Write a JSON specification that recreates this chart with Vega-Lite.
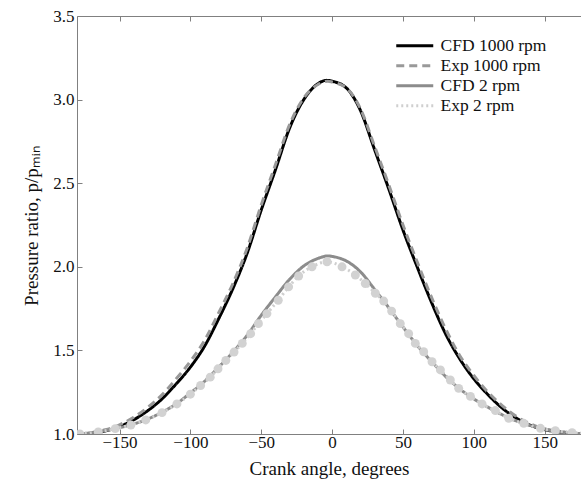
{
  "$schema": "https://vega.github.io/schema/vega-lite/v6.json",
  "autosize": "none",
  "width": 504,
  "height": 418,
  "padding": {"left": 77, "top": 16, "right": 0, "bottom": 48},
  "background": "white",
  "config": {
    "view": {"stroke": null},
    "font": "Liberation Serif",
    "axis": {"labelFont": "Liberation Serif", "titleFont": "Liberation Serif", "labelFontSize": 17, "titleFontSize": 19, "titleFontWeight": "normal", "labelColor": "#111", "titleColor": "#111", "domainColor": "#808080", "tickColor": "#808080", "grid": false}
  },
  "data": {"values": [
    {"series": "CFD 1000 rpm", "angle": -180, "p": 1.0},
    {"series": "CFD 1000 rpm", "angle": -170, "p": 1.005},
    {"series": "CFD 1000 rpm", "angle": -160, "p": 1.018},
    {"series": "CFD 1000 rpm", "angle": -150, "p": 1.045},
    {"series": "CFD 1000 rpm", "angle": -140, "p": 1.085},
    {"series": "CFD 1000 rpm", "angle": -130, "p": 1.14},
    {"series": "CFD 1000 rpm", "angle": -120, "p": 1.21},
    {"series": "CFD 1000 rpm", "angle": -110, "p": 1.30},
    {"series": "CFD 1000 rpm", "angle": -100, "p": 1.40},
    {"series": "CFD 1000 rpm", "angle": -90, "p": 1.525},
    {"series": "CFD 1000 rpm", "angle": -80, "p": 1.69},
    {"series": "CFD 1000 rpm", "angle": -70, "p": 1.87},
    {"series": "CFD 1000 rpm", "angle": -60, "p": 2.08},
    {"series": "CFD 1000 rpm", "angle": -50, "p": 2.34},
    {"series": "CFD 1000 rpm", "angle": -40, "p": 2.58},
    {"series": "CFD 1000 rpm", "angle": -30, "p": 2.83},
    {"series": "CFD 1000 rpm", "angle": -20, "p": 3.0},
    {"series": "CFD 1000 rpm", "angle": -10, "p": 3.095},
    {"series": "CFD 1000 rpm", "angle": -4, "p": 3.115},
    {"series": "CFD 1000 rpm", "angle": 0, "p": 3.11},
    {"series": "CFD 1000 rpm", "angle": 10, "p": 3.07},
    {"series": "CFD 1000 rpm", "angle": 20, "p": 2.935},
    {"series": "CFD 1000 rpm", "angle": 30, "p": 2.70},
    {"series": "CFD 1000 rpm", "angle": 40, "p": 2.465},
    {"series": "CFD 1000 rpm", "angle": 50, "p": 2.22},
    {"series": "CFD 1000 rpm", "angle": 60, "p": 2.0},
    {"series": "CFD 1000 rpm", "angle": 70, "p": 1.79},
    {"series": "CFD 1000 rpm", "angle": 80, "p": 1.60},
    {"series": "CFD 1000 rpm", "angle": 90, "p": 1.45},
    {"series": "CFD 1000 rpm", "angle": 100, "p": 1.33},
    {"series": "CFD 1000 rpm", "angle": 110, "p": 1.235},
    {"series": "CFD 1000 rpm", "angle": 120, "p": 1.155},
    {"series": "CFD 1000 rpm", "angle": 130, "p": 1.095},
    {"series": "CFD 1000 rpm", "angle": 140, "p": 1.052},
    {"series": "CFD 1000 rpm", "angle": 150, "p": 1.026},
    {"series": "CFD 1000 rpm", "angle": 160, "p": 1.012},
    {"series": "CFD 1000 rpm", "angle": 170, "p": 1.004},
    {"series": "CFD 1000 rpm", "angle": 180, "p": 1.0},

    {"series": "Exp 1000 rpm", "angle": -180, "p": 1.0},
    {"series": "Exp 1000 rpm", "angle": -170, "p": 1.008},
    {"series": "Exp 1000 rpm", "angle": -160, "p": 1.025},
    {"series": "Exp 1000 rpm", "angle": -150, "p": 1.055},
    {"series": "Exp 1000 rpm", "angle": -140, "p": 1.10},
    {"series": "Exp 1000 rpm", "angle": -130, "p": 1.16},
    {"series": "Exp 1000 rpm", "angle": -120, "p": 1.235},
    {"series": "Exp 1000 rpm", "angle": -110, "p": 1.33},
    {"series": "Exp 1000 rpm", "angle": -100, "p": 1.435},
    {"series": "Exp 1000 rpm", "angle": -90, "p": 1.56},
    {"series": "Exp 1000 rpm", "angle": -80, "p": 1.725},
    {"series": "Exp 1000 rpm", "angle": -70, "p": 1.90},
    {"series": "Exp 1000 rpm", "angle": -60, "p": 2.11},
    {"series": "Exp 1000 rpm", "angle": -50, "p": 2.37},
    {"series": "Exp 1000 rpm", "angle": -40, "p": 2.61},
    {"series": "Exp 1000 rpm", "angle": -30, "p": 2.85},
    {"series": "Exp 1000 rpm", "angle": -20, "p": 3.01},
    {"series": "Exp 1000 rpm", "angle": -10, "p": 3.09},
    {"series": "Exp 1000 rpm", "angle": -3, "p": 3.11},
    {"series": "Exp 1000 rpm", "angle": 0, "p": 3.105},
    {"series": "Exp 1000 rpm", "angle": 10, "p": 3.07},
    {"series": "Exp 1000 rpm", "angle": 20, "p": 2.945},
    {"series": "Exp 1000 rpm", "angle": 30, "p": 2.72},
    {"series": "Exp 1000 rpm", "angle": 40, "p": 2.49},
    {"series": "Exp 1000 rpm", "angle": 50, "p": 2.25},
    {"series": "Exp 1000 rpm", "angle": 60, "p": 2.03},
    {"series": "Exp 1000 rpm", "angle": 70, "p": 1.82},
    {"series": "Exp 1000 rpm", "angle": 80, "p": 1.63},
    {"series": "Exp 1000 rpm", "angle": 90, "p": 1.47},
    {"series": "Exp 1000 rpm", "angle": 100, "p": 1.35},
    {"series": "Exp 1000 rpm", "angle": 110, "p": 1.25},
    {"series": "Exp 1000 rpm", "angle": 120, "p": 1.17},
    {"series": "Exp 1000 rpm", "angle": 130, "p": 1.105},
    {"series": "Exp 1000 rpm", "angle": 140, "p": 1.06},
    {"series": "Exp 1000 rpm", "angle": 150, "p": 1.03},
    {"series": "Exp 1000 rpm", "angle": 160, "p": 1.014},
    {"series": "Exp 1000 rpm", "angle": 170, "p": 1.005},
    {"series": "Exp 1000 rpm", "angle": 180, "p": 1.0},

    {"series": "CFD 2 rpm", "angle": -180, "p": 1.0},
    {"series": "CFD 2 rpm", "angle": -170, "p": 1.008},
    {"series": "CFD 2 rpm", "angle": -160, "p": 1.02},
    {"series": "CFD 2 rpm", "angle": -150, "p": 1.038},
    {"series": "CFD 2 rpm", "angle": -140, "p": 1.06},
    {"series": "CFD 2 rpm", "angle": -130, "p": 1.09},
    {"series": "CFD 2 rpm", "angle": -120, "p": 1.13},
    {"series": "CFD 2 rpm", "angle": -110, "p": 1.18},
    {"series": "CFD 2 rpm", "angle": -100, "p": 1.245},
    {"series": "CFD 2 rpm", "angle": -90, "p": 1.315},
    {"series": "CFD 2 rpm", "angle": -80, "p": 1.40},
    {"series": "CFD 2 rpm", "angle": -70, "p": 1.49},
    {"series": "CFD 2 rpm", "angle": -60, "p": 1.59},
    {"series": "CFD 2 rpm", "angle": -50, "p": 1.71},
    {"series": "CFD 2 rpm", "angle": -40, "p": 1.82},
    {"series": "CFD 2 rpm", "angle": -30, "p": 1.925},
    {"series": "CFD 2 rpm", "angle": -20, "p": 2.005},
    {"series": "CFD 2 rpm", "angle": -10, "p": 2.05},
    {"series": "CFD 2 rpm", "angle": -3, "p": 2.065},
    {"series": "CFD 2 rpm", "angle": 0, "p": 2.062},
    {"series": "CFD 2 rpm", "angle": 10, "p": 2.035},
    {"series": "CFD 2 rpm", "angle": 20, "p": 1.97},
    {"series": "CFD 2 rpm", "angle": 30, "p": 1.865},
    {"series": "CFD 2 rpm", "angle": 40, "p": 1.755},
    {"series": "CFD 2 rpm", "angle": 50, "p": 1.64},
    {"series": "CFD 2 rpm", "angle": 60, "p": 1.53},
    {"series": "CFD 2 rpm", "angle": 70, "p": 1.435},
    {"series": "CFD 2 rpm", "angle": 80, "p": 1.345},
    {"series": "CFD 2 rpm", "angle": 90, "p": 1.27},
    {"series": "CFD 2 rpm", "angle": 100, "p": 1.21},
    {"series": "CFD 2 rpm", "angle": 110, "p": 1.16},
    {"series": "CFD 2 rpm", "angle": 120, "p": 1.115},
    {"series": "CFD 2 rpm", "angle": 130, "p": 1.078},
    {"series": "CFD 2 rpm", "angle": 140, "p": 1.05},
    {"series": "CFD 2 rpm", "angle": 150, "p": 1.03},
    {"series": "CFD 2 rpm", "angle": 160, "p": 1.016},
    {"series": "CFD 2 rpm", "angle": 170, "p": 1.006},
    {"series": "CFD 2 rpm", "angle": 180, "p": 1.0},

    {"series": "Exp 2 rpm", "angle": -178, "p": 1.0},
    {"series": "Exp 2 rpm", "angle": -165, "p": 1.012},
    {"series": "Exp 2 rpm", "angle": -153, "p": 1.032},
    {"series": "Exp 2 rpm", "angle": -142, "p": 1.054},
    {"series": "Exp 2 rpm", "angle": -131.5, "p": 1.084},
    {"series": "Exp 2 rpm", "angle": -120, "p": 1.128},
    {"series": "Exp 2 rpm", "angle": -109.5, "p": 1.18},
    {"series": "Exp 2 rpm", "angle": -100, "p": 1.238},
    {"series": "Exp 2 rpm", "angle": -92.8, "p": 1.29},
    {"series": "Exp 2 rpm", "angle": -86, "p": 1.34},
    {"series": "Exp 2 rpm", "angle": -80.5, "p": 1.39},
    {"series": "Exp 2 rpm", "angle": -75, "p": 1.44},
    {"series": "Exp 2 rpm", "angle": -69.2, "p": 1.49},
    {"series": "Exp 2 rpm", "angle": -63.4, "p": 1.542},
    {"series": "Exp 2 rpm", "angle": -57.5, "p": 1.60},
    {"series": "Exp 2 rpm", "angle": -52, "p": 1.66},
    {"series": "Exp 2 rpm", "angle": -46, "p": 1.72},
    {"series": "Exp 2 rpm", "angle": -38, "p": 1.80},
    {"series": "Exp 2 rpm", "angle": -30.7, "p": 1.88},
    {"series": "Exp 2 rpm", "angle": -23.6, "p": 1.945},
    {"series": "Exp 2 rpm", "angle": -14.2, "p": 2.0},
    {"series": "Exp 2 rpm", "angle": -3.6, "p": 2.03},
    {"series": "Exp 2 rpm", "angle": 7, "p": 2.0},
    {"series": "Exp 2 rpm", "angle": 16.4, "p": 1.951},
    {"series": "Exp 2 rpm", "angle": 23.4, "p": 1.90},
    {"series": "Exp 2 rpm", "angle": 30.5, "p": 1.842},
    {"series": "Exp 2 rpm", "angle": 36.4, "p": 1.795},
    {"series": "Exp 2 rpm", "angle": 42, "p": 1.735},
    {"series": "Exp 2 rpm", "angle": 48.1, "p": 1.66},
    {"series": "Exp 2 rpm", "angle": 54, "p": 1.60},
    {"series": "Exp 2 rpm", "angle": 58.7, "p": 1.542},
    {"series": "Exp 2 rpm", "angle": 64.6, "p": 1.492},
    {"series": "Exp 2 rpm", "angle": 70.5, "p": 1.432},
    {"series": "Exp 2 rpm", "angle": 76.4, "p": 1.383},
    {"series": "Exp 2 rpm", "angle": 83.4, "p": 1.323},
    {"series": "Exp 2 rpm", "angle": 89.3, "p": 1.273},
    {"series": "Exp 2 rpm", "angle": 97.6, "p": 1.225},
    {"series": "Exp 2 rpm", "angle": 105.8, "p": 1.18},
    {"series": "Exp 2 rpm", "angle": 115.2, "p": 1.14},
    {"series": "Exp 2 rpm", "angle": 124.6, "p": 1.094},
    {"series": "Exp 2 rpm", "angle": 135.2, "p": 1.064},
    {"series": "Exp 2 rpm", "angle": 147, "p": 1.034},
    {"series": "Exp 2 rpm", "angle": 157.5, "p": 1.02},
    {"series": "Exp 2 rpm", "angle": 169.3, "p": 1.008},
    {"series": "Exp 2 rpm", "angle": 178, "p": 1.0}
  ]},
  "layer": [
    {
      "mark": {"type": "line", "strokeWidth": 3, "interpolate": "monotone", "clip": true},
      "encoding": {
        "x": {"field": "angle", "type": "quantitative", "scale": {"domain": [-180, 175.6], "nice": false, "zero": false},
              "axis": {"orient": "bottom", "values": [-150, -100, -50, 0, 50, 100, 150], "title": "Crank angle, degrees", "tickSize": -5, "labelPadding": 5, "titlePadding": 9, "labelFlush": false}},
        "y": {"field": "p", "type": "quantitative", "scale": {"domain": [1.0, 3.5], "nice": false, "zero": false},
              "axis": {"values": [1.0, 1.5, 2.0, 2.5, 3.0, 3.5], "format": ".1f", "title": "Pressure ratio, p/pₘᵢₙ", "tickSize": -5, "labelPadding": 8, "titlePadding": 11, "labelFlush": false}},
        "color": {"field": "series", "type": "nominal",
                  "scale": {"domain": ["CFD 1000 rpm", "Exp 1000 rpm", "CFD 2 rpm", "Exp 2 rpm"], "range": ["#000000", "#999999", "#8c8c8c", "#cfcfcf"]},
                  "legend": {"title": null, "orient": "none", "legendX": 329, "legendY": 21, "padding": 0, "symbolType": "M-3.7,0L3.7,0", "symbolSize": 100, "symbolStrokeWidth": 3, "symbolFillColor": "transparent", "labelFont": "Liberation Serif", "labelFontSize": 17.5, "labelColor": "#111", "labelOffset": 17, "rowPadding": 1}},
        "strokeDash": {"field": "series", "type": "nominal",
                  "scale": {"domain": ["CFD 1000 rpm", "Exp 1000 rpm", "CFD 2 rpm", "Exp 2 rpm"], "range": [[1, 0], [8, 5], [1, 0], [2, 3]]},
                  "legend": {"title": null, "orient": "none", "legendX": 329, "legendY": 21, "padding": 0, "symbolType": "M-3.7,0L3.7,0", "symbolSize": 100, "symbolStrokeWidth": 3, "symbolFillColor": "transparent", "labelFont": "Liberation Serif", "labelFontSize": 17.5, "labelColor": "#111", "labelOffset": 17, "rowPadding": 1}}
      }
    },
    {
      "transform": [{"filter": "datum.series === 'Exp 2 rpm'"}],
      "mark": {"type": "point", "filled": true, "size": 80, "color": "#d2d2d2", "opacity": 1, "clip": true},
      "encoding": {
        "x": {"field": "angle", "type": "quantitative", "axis": {"orient": "top", "values": [-150, -100, -50, 0, 50, 100, 150], "labels": false, "title": null, "tickSize": -5}},
        "y": {"field": "p", "type": "quantitative"}
      }
    }
  ],
  "resolve": {"axis": {"x": "independent"}}
}
